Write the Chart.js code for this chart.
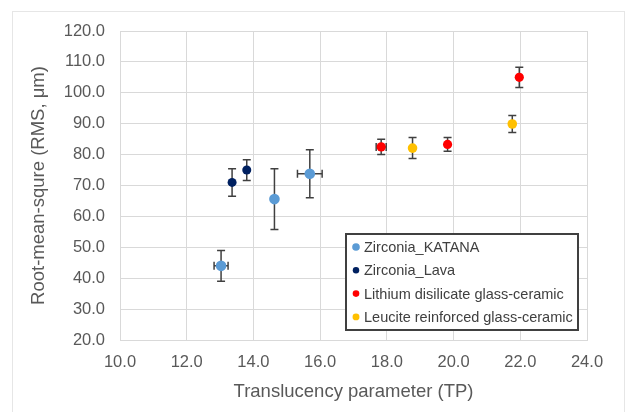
<!DOCTYPE html>
<html>
<head>
<meta charset="utf-8">
<script src="https://cdn.jsdelivr.net/npm/chart.js"></script>
<style>
html, body { margin: 0; padding: 0; background: #fff; overflow: hidden; }
#wrap { position: relative; width: 625px; height: 412px; }
#frame { position: absolute; left: 12px; top: 11px; width: 613px; height: 410px; border: 1px solid #E6E6E6; box-sizing: border-box; }
canvas { position: absolute; left: 0; top: 0; }
</style>
</head>
<body>
<div id="wrap"><div id="frame"></div><canvas id="grafico" width="625" height="412"></canvas></div>
<script>
// dados
var nomes = ['Zirconia_KATANA', 'Zirconia_Lava', 'Lithium disilicate glass-ceramic', 'Leucite reinforced glass-ceramic']
var cores = ['#5B9BD5', '#002060', '#FF0000', '#FFC000']

var katana_x = [13.03, 14.63, 15.69]
var katana_y = [44.0, 65.6, 73.8]
var katana_erro_y = [5.0, 9.8, 7.8]
var katana_erro_x = [0.21, 0, 0.37]

var lava_x = [13.36, 13.80]
var lava_y = [71.0, 75.0]
var lava_erro_y = [4.45, 3.35]
var lava_erro_x = [0, 0]

var litio_x = [17.83, 19.82, 21.97]
var litio_y = [82.5, 83.3, 105.0]
var litio_erro_y = [2.5, 2.2, 3.25]
var litio_erro_x = [0.15, 0, 0]

var leucita_x = [18.77, 21.76]
var leucita_y = [82.1, 89.9]
var leucita_erro_y = [3.4, 2.75]
var leucita_erro_x = [0, 0]

var ticks_x = [10, 12, 14, 16, 18, 20, 22, 24]
var ticks_y = [20, 30, 40, 50, 60, 70, 80, 90, 100, 110, 120]

var fonte = 'Liberation Sans, Arial, sans-serif'

function pontos(xs, ys) {
    var lista = []
    for (var n = 0; n < xs.length; n++) {
        lista.push({ x: xs[n], y: ys[n] })
    }
    return lista
}

function serie(i, xs, ys, ex, ey, raio) {
    return {
        label: nomes[i],
        data: pontos(xs, ys),
        erroX: ex,
        erroY: ey,
        backgroundColor: cores[i],
        borderColor: cores[i],
        borderWidth: 0,
        pointRadius: raio,
        pointHoverRadius: raio
    }
}

var barrasDeErro = {
    id: 'barrasDeErro',
    beforeDatasetsDraw: function (chart) {
        var ctx = chart.ctx
        var sx = chart.scales.x
        var sy = chart.scales.y
        var cap = 4
        ctx.save()
        ctx.strokeStyle = '#404040'
        ctx.lineWidth = 1.5
        chart.data.datasets.forEach(function (ds) {
            ds.data.forEach(function (p, i) {
                var px = sx.getPixelForValue(p.x)
                var py = sy.getPixelForValue(p.y)
                var ey = ds.erroY[i]
                var ex = ds.erroX[i]
                ctx.beginPath()
                if (ey) {
                    var t = sy.getPixelForValue(p.y + ey)
                    var b = sy.getPixelForValue(p.y - ey)
                    ctx.moveTo(px, t); ctx.lineTo(px, b)
                    ctx.moveTo(px - cap, t); ctx.lineTo(px + cap, t)
                    ctx.moveTo(px - cap, b); ctx.lineTo(px + cap, b)
                }
                if (ex) {
                    var l = sx.getPixelForValue(p.x - ex)
                    var r = sx.getPixelForValue(p.x + ex)
                    ctx.moveTo(l, py); ctx.lineTo(r, py)
                    ctx.moveTo(l, py - cap); ctx.lineTo(l, py + cap)
                    ctx.moveTo(r, py - cap); ctx.lineTo(r, py + cap)
                }
                ctx.stroke()
            })
        })
        ctx.restore()
    }
}

var legenda = {
    id: 'legenda',
    afterDraw: function (chart) {
        var ctx = chart.ctx
        var caixa = { x: 346, y: 234, w: 232, h: 96 }
        var passo = 23.3
        ctx.save()
        ctx.fillStyle = '#fff'
        ctx.fillRect(caixa.x, caixa.y, caixa.w, caixa.h)
        ctx.strokeStyle = '#404040'
        ctx.lineWidth = 2
        ctx.strokeRect(caixa.x, caixa.y, caixa.w, caixa.h)
        ctx.font = '14.5px ' + fonte
        ctx.textBaseline = 'middle'
        ctx.textAlign = 'left'
        chart.data.datasets.forEach(function (ds, i) {
            var cy = caixa.y + 13 + i * passo
            ctx.fillStyle = ds.backgroundColor
            ctx.beginPath()
            ctx.arc(caixa.x + 10, cy, ds.pointRadius * 0.72, 0, Math.PI * 2)
            ctx.fill()
            ctx.fillStyle = '#404040'
            ctx.fillText(ds.label, caixa.x + 18, cy + 1)
        })
        ctx.restore()
    }
}

var contexto = document.getElementById('grafico').getContext('2d')
var grafico = new Chart(contexto, {
    type: 'scatter',
    data: {
        datasets: [
            serie(0, katana_x, katana_y, katana_erro_x, katana_erro_y, 5.3),
            serie(1, lava_x, lava_y, lava_erro_x, lava_erro_y, 4.5),
            serie(2, litio_x, litio_y, litio_erro_x, litio_erro_y, 4.6),
            serie(3, leucita_x, leucita_y, leucita_erro_x, leucita_erro_y, 4.8)
        ]
    },
    options: {
        responsive: false,
        devicePixelRatio: 1,
        animation: false,
        layout: { padding: { left: 0, top: 31, right: 38, bottom: 0 } },
        plugins: {
            legend: { display: false },
            tooltip: { enabled: false }
        },
        scales: {
            x: {
                type: 'linear',
                min: ticks_x[0],
                max: ticks_x[ticks_x.length - 1],
                afterBuildTicks: function (s) { s.ticks = ticks_x.map(function (v) { return { value: v } }) },
                afterFit: function (s) { s.height = 72 },
                ticks: {
                    padding: 13,
                    color: '#595959',
                    font: { family: fonte, size: 16.5 },
                    callback: function (v) { return v.toFixed(1) }
                },
                grid: { color: '#D9D9D9', drawTicks: false },
                border: { color: '#D9D9D9' },
                title: {
                    display: true,
                    text: 'Translucency parameter (TP)',
                    color: '#595959',
                    font: { family: fonte, size: 18.5 },
                    padding: { top: 0, bottom: 9 }
                }
            },
            y: {
                type: 'linear',
                min: ticks_y[0],
                max: ticks_y[ticks_y.length - 1],
                afterBuildTicks: function (s) { s.ticks = ticks_y.map(function (v) { return { value: v } }) },
                afterFit: function (s) { s.width = 120 },
                ticks: {
                    padding: 15,
                    color: '#595959',
                    font: { family: fonte, size: 16.5 },
                    callback: function (v) { return v.toFixed(1) }
                },
                grid: { color: '#D9D9D9', drawTicks: false },
                border: { color: '#D9D9D9' },
                title: {
                    display: true,
                    text: 'Root-mean-squre (RMS, μm)',
                    color: '#595959',
                    font: { family: fonte, size: 18.5 },
                    padding: { top: 28, bottom: 0 }
                }
            }
        }
    },
    plugins: [barrasDeErro, legenda]
})
</script>
</body>
</html>
